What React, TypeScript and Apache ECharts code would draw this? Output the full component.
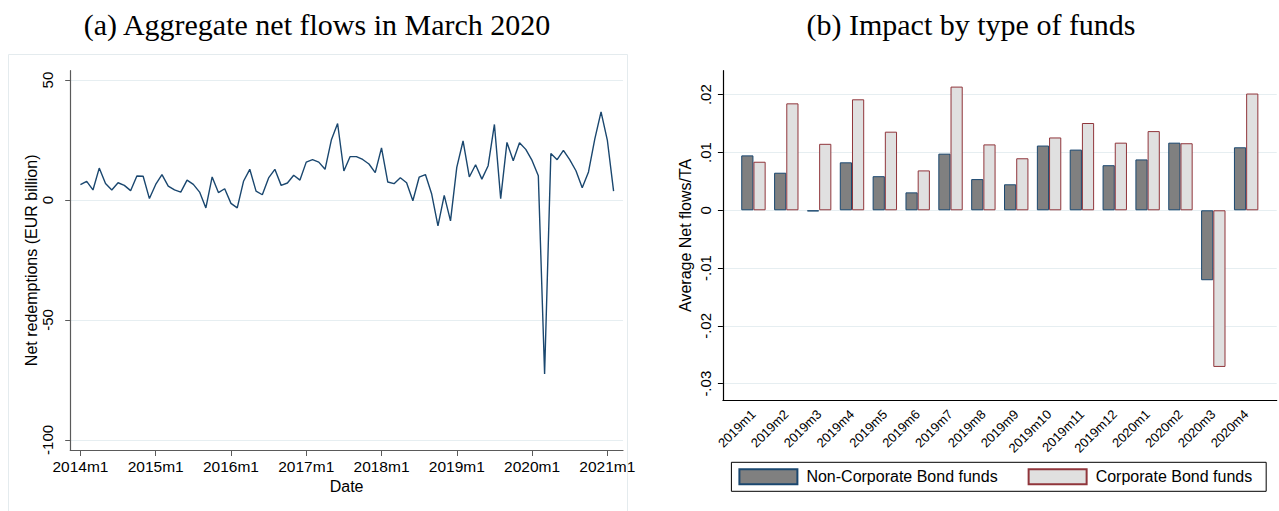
import React, { useEffect, useRef } from 'react';
import * as echarts from 'echarts';

// ---------- Panel (a): aggregate net flows, monthly from 2014m1 ----------
const netFlows2014 = [6.4, 7.8, 4.2, 13.3, 6.9, 4.2, 7.2, 6.1, 3.9, 10.0, 9.9, 0.6];
const netFlows2015 = [6.5, 10.6, 5.8, 4.2, 3.3, 8.3, 6.5, 3.3, -3.3, 9.6, 3.1, 4.7];
const netFlows2016 = [-1.4, -3.3, 7.8, 12.8, 3.7, 2.2, 9.2, 12.8, 6.1, 7.1, 10.3, 8.3];
const netFlows2017 = [15.8, 16.8, 15.8, 12.8, 25.0, 31.9, 12.1, 18.1, 18.1, 16.9, 15.0, 11.4];
const netFlows2018 = [21.7, 7.5, 6.8, 9.3, 7.2, -0.3, 9.5, 10.6, 2.5, -10.8, 1.9, -8.7];
const netFlows2019 = [13.6, 24.6, 9.6, 14.7, 8.7, 14.3, 31.5, 0.6, 24.0, 16.4, 23.9, 21.1];
const netFlows2020 = [16.5, 10.1, -72.5, 19.4, 16.8, 20.7, 16.8, 12.2, 5.1, 11.7, 25.4, 36.7];
const netFlows2021 = [25.0, 3.7];
const netFlows = [
  ...netFlows2014, ...netFlows2015, ...netFlows2016, ...netFlows2017,
  ...netFlows2018, ...netFlows2019, ...netFlows2020, ...netFlows2021,
];
const yearTickIndex = [0, 12, 24, 36, 48, 60, 72, 84];
const yearTickLabels = ['2014m1', '2015m1', '2016m1', '2017m1', '2018m1', '2019m1', '2020m1', '2021m1'];
const leftYTicks = [-100, -50, 0, 50];

// ---------- Panel (b): impact by type of funds ----------
const fundMonths = [
  '2019m1', '2019m2', '2019m3', '2019m4', '2019m5', '2019m6', '2019m7', '2019m8',
  '2019m9', '2019m10', '2019m11', '2019m12', '2020m1', '2020m2', '2020m3', '2020m4',
];
const nonCorporate = [
  0.0095, 0.0065, -0.0002, 0.0083, 0.0059, 0.0031, 0.0098, 0.0054,
  0.0045, 0.0112, 0.0105, 0.0078, 0.0088, 0.0117, -0.0121, 0.0109,
];
const corporate = [
  0.0084, 0.0185, 0.0115, 0.0192, 0.0136, 0.0069, 0.0214, 0.0114,
  0.0090, 0.0126, 0.0151, 0.0117, 0.0137, 0.0116, -0.0271, 0.0202,
];
const rightYTicks = [-0.03, -0.02, -0.01, 0, 0.01, 0.02];
const categoryIndex = fundMonths.map((_, i) => i);

const NAVY = '#1a476f';
const MAROON = '#90353b';
const GRID = '#e6eef1';
const SANS = 'Liberation Sans, Arial, sans-serif';
const SERIF = 'Liberation Serif, Times New Roman, serif';

function fmtRight(v: number): string {
  if (Math.abs(v) < 1e-9) return '0';
  const s = v.toFixed(2);
  return s.replace('0.', '.');
}

export default function App() {
  const ref = useRef<HTMLDivElement>(null);

  useEffect(() => {
    if (!ref.current) return;
    const chart = echarts.init(ref.current, undefined, { renderer: 'svg' });
    const option: any = {
      animation: false,
      backgroundColor: '#ffffff',
      textStyle: { fontFamily: SANS },
      graphic: [
        {
          type: 'rect',
          z: -10,
          shape: { x: 8.5, y: 54.5, width: 619, height: 480 },
          style: { fill: 'none', stroke: '#e4ebee', lineWidth: 1 },
        },
        {
          type: 'text',
          x: 317,
          y: 24,
          style: {
            text: '(a) Aggregate net flows in March 2020',
            font: `30px ${SERIF}`,
            fill: '#000',
            textAlign: 'center',
            textVerticalAlign: 'middle',
          },
        },
        {
          type: 'text',
          x: 971,
          y: 24,
          style: {
            text: '(b) Impact by type of funds',
            font: `30px ${SERIF}`,
            fill: '#000',
            textAlign: 'center',
            textVerticalAlign: 'middle',
          },
        },
      ],
      grid: [
        { left: 70.2, top: 70.7, width: 552.8, height: 379.3, containLabel: false, outerBoundsMode: 'none' },
        { left: 722.9, top: 70.7, width: 553.8, height: 329.3, containLabel: false, outerBoundsMode: 'none' },
      ],
      legend: {
        show: true,
        left: 731.4,
        top: 462.3,
        orient: 'horizontal',
        itemWidth: 58,
        itemHeight: 15,
        itemGap: 30,
        borderColor: '#000',
        borderWidth: 1,
        padding: [6, 14, 6, 7],
        icon: 'rect',
        textStyle: { fontSize: 16, color: '#000', fontFamily: SANS, padding: [0, 0, 0, 4] },
        data: ['Non-Corporate Bond funds', 'Corporate Bond funds'],
      },
      xAxis: [
        {
          type: 'value',
          gridIndex: 0,
          min: -1.63,
          max: 86.5,
          name: 'Date',
          nameLocation: 'middle',
          nameGap: 26,
          nameTextStyle: { fontSize: 16, color: '#000', fontFamily: SANS },
          axisLine: { show: true, onZero: false, lineStyle: { color: '#5a5a5a', width: 1.2 } },
          axisTick: { show: true, length: 6, customValues: yearTickIndex, lineStyle: { color: '#5a5a5a' } },
          axisLabel: {
            show: true,
            customValues: yearTickIndex,
            formatter: (v: number) => yearTickLabels[yearTickIndex.indexOf(Math.round(v))] ?? '',
            fontSize: 15.5,
            color: '#000',
            margin: 8,
            fontFamily: SANS,
          },
          splitLine: { show: false },
        },
        {
          type: 'value',
          gridIndex: 1,
          min: -0.93,
          max: 15.93,
          axisLine: { show: true, onZero: false, lineStyle: { color: '#000', width: 1.2 } },
          axisTick: { show: false, customValues: categoryIndex },
          axisLabel: {
            show: true,
            customValues: categoryIndex,
            formatter: (v: number) => fundMonths[Math.round(v)] ?? '',
            rotate: 45,
            fontSize: 13,
            color: '#000',
            margin: 12,
            fontFamily: SANS,
          },
          splitLine: { show: false },
        },
      ],
      yAxis: [
        {
          type: 'value',
          gridIndex: 0,
          min: -104.2,
          max: 53.9,
          name: 'Net redemptions (EUR billion)',
          nameLocation: 'middle',
          nameGap: 27,
          nameTextStyle: { fontSize: 16, color: '#000', fontFamily: SANS },
          axisLine: { show: true, onZero: false, lineStyle: { color: '#5a5a5a', width: 1.2 } },
          axisTick: { show: true, length: 5, customValues: leftYTicks, lineStyle: { color: '#5a5a5a' } },
          axisLabel: {
            show: true,
            customValues: leftYTicks,
            rotate: 90,
            fontSize: 15,
            color: '#000',
            margin: 15,
            fontFamily: SANS,
          },
          splitLine: { show: true, lineStyle: { color: GRID, width: 1.2 } },
        },
        {
          type: 'value',
          gridIndex: 1,
          min: -0.03282,
          max: 0.02415,
          name: 'Average Net flows/TA',
          nameLocation: 'middle',
          nameGap: 29,
          nameTextStyle: { fontSize: 16, color: '#000', fontFamily: SANS },
          axisLine: { show: true, onZero: false, lineStyle: { color: '#000', width: 1.2 } },
          axisTick: { show: true, length: 5, customValues: rightYTicks, lineStyle: { color: '#000' } },
          axisLabel: {
            show: true,
            customValues: rightYTicks,
            formatter: (v: number) => fmtRight(v),
            rotate: 90,
            fontSize: 15,
            color: '#000',
            margin: 9.5,
            fontFamily: SANS,
          },
          splitLine: { show: true, lineStyle: { color: GRID, width: 1.2 } },
        },
      ],
      series: [
        {
          type: 'line',
          name: 'Net flows',
          xAxisIndex: 0,
          yAxisIndex: 0,
          data: netFlows.map((v, i) => [i, v]),
          showSymbol: false,
          symbol: 'none',
          lineStyle: { color: NAVY, width: 1.4 },
          itemStyle: { color: NAVY },
        },
        {
          type: 'bar',
          name: 'Non-Corporate Bond funds',
          xAxisIndex: 1,
          yAxisIndex: 1,
          data: nonCorporate.map((v, i) => [i, v]),
          barWidth: 12.2,
          barGap: '0%',
          itemStyle: { color: '#808080', borderColor: NAVY, borderWidth: 1 },
        },
        {
          type: 'bar',
          name: 'Corporate Bond funds',
          xAxisIndex: 1,
          yAxisIndex: 1,
          data: corporate.map((v, i) => [i, v]),
          barWidth: 12.2,
          barGap: '0%',
          itemStyle: { color: '#e0e0e0', borderColor: MAROON, borderWidth: 1 },
        },
      ],
    };
    chart.setOption(option);
    return () => {
      chart.dispose();
    };
  }, []);

  return (
    <div
      ref={ref}
      style={{ position: 'fixed', left: 0, top: 0, width: 1279, height: 511, background: '#fff' }}
    />
  );
}
